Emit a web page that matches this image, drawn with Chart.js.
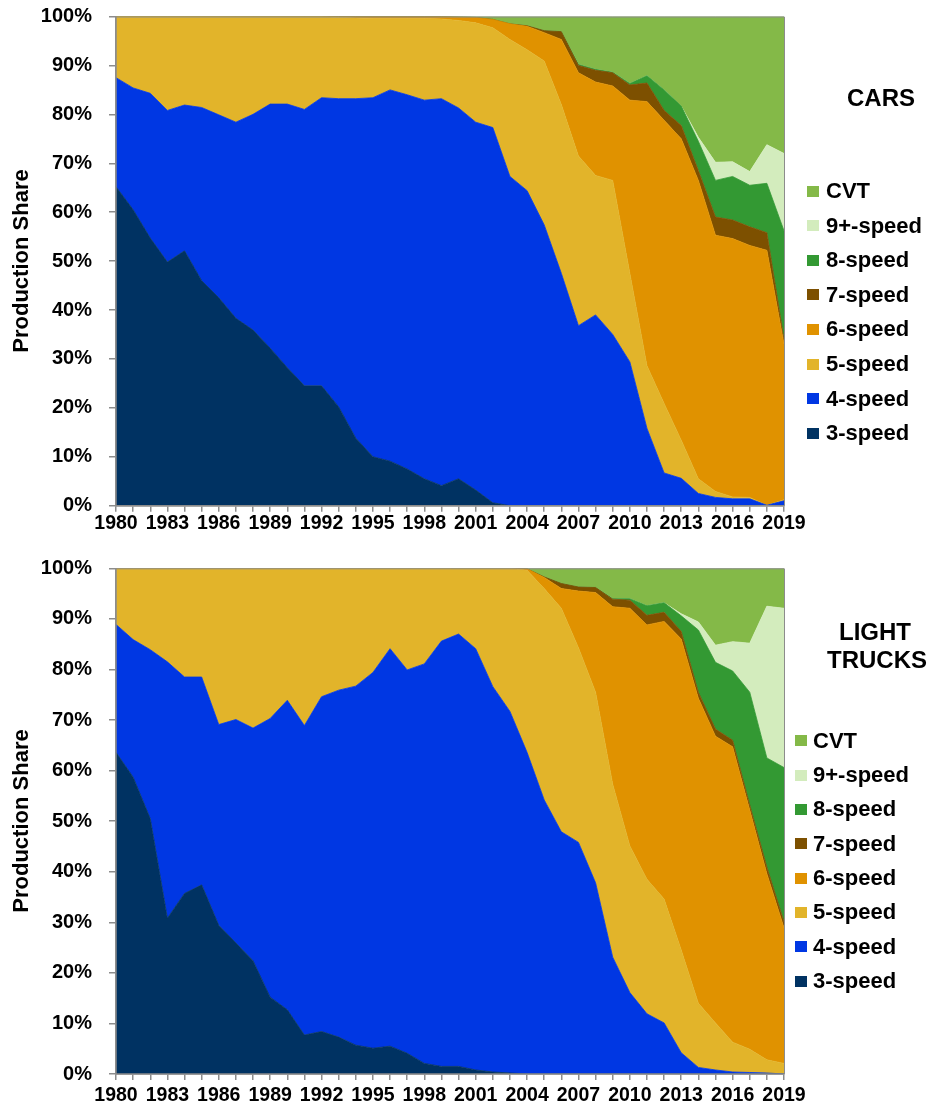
<!DOCTYPE html>
<html><head><meta charset="utf-8">
<script src="https://cdn.jsdelivr.net/npm/chart.js@4.4.1/dist/chart.umd.min.js"></script>
<style>
html,body{margin:0;padding:0;background:#fff;}
body{width:933px;height:1108px;position:relative;overflow:hidden;font-family:"Liberation Sans",Arial,sans-serif;font-weight:bold;color:#000;}
canvas{position:absolute;left:0;}
.t{position:absolute;white-space:nowrap;}
.sq{position:absolute;width:12px;height:11px;}
</style></head><body>
<canvas id="c1" width="933" height="545" style="top:0px"></canvas>
<canvas id="c2" width="933" height="560" style="top:548px"></canvas>
<div id="ov"></div>
<script>
// ---------- DATA ----------
const years = ['1980','1981','1982','1983','1984','1985','1986','1987','1988','1989',
               '1990','1991','1992','1993','1994','1995','1996','1997','1998','1999',
               '2000','2001','2002','2003','2004','2005','2006','2007','2008','2009',
               '2010','2011','2012','2013','2014','2015','2016','2017','2018','2019'];
const yTickLabels = ['0%','10%','20%','30%','40%','50%','60%','70%','80%','90%','100%'];
const seriesNames = ['3-speed','4-speed','5-speed','6-speed','7-speed','8-speed','9+-speed','CVT'];
const seriesColors = ['#003262','#0037E3','#E2B42A','#E09200','#7D5000','#339933','#D3ECBD','#84B948'];

// Cars
const cars3 = [65.2,60.5,54.7,49.8,52.1,46.0,42.5,38.3,35.9,32.2,28.2,24.5,24.5,20.2,13.8,10.0,9.1,7.5,5.5,4.1,5.5,3.2,0.6,0,0,0,0,0,0,0,0,0,0,0,0,0,0,0,0,0];
const cars4 = [22.3,24.9,29.6,31.0,29.8,35.4,37.4,40.1,44.1,49.9,53.9,56.5,58.9,63.0,69.4,73.4,75.9,76.5,77.4,79.1,75.8,75.2,76.7,67.3,64.4,57.4,47.5,36.8,39.0,35.0,29.4,15.8,6.7,5.6,2.5,1.7,1.4,1.4,0.1,1.0];
const cars5 = [12.5,14.6,15.7,19.2,18.1,18.6,20.1,21.6,20.0,17.9,17.9,19.0,16.6,16.6,16.5,16.2,14.6,15.6,16.7,16.3,17.9,20.3,20.4,28.0,28.8,33.5,34.5,34.7,28.5,31.5,18.1,12.8,14.2,7.8,3.0,1.2,0.4,0.3,0,0.2];
const cars6 = [0,0,0,0,0,0,0,0,0,0,0,0,0,0.2,0.3,0.4,0.4,0.4,0.4,0.5,0.7,1.1,1.7,3.2,4.8,5.8,13.3,17.0,19.1,19.3,35.4,54.0,57.9,61.6,61.0,52.4,52.8,51.5,52.1,31.8];
const cars7 = [0,0,0,0,0,0,0,0,0,0,0,0,0,0,0,0,0,0,0,0,0,0,0,0,0.1,0.4,1.6,1.5,2.4,2.7,3.1,3.8,2.0,2.7,2.0,3.7,3.8,3.8,3.6,1.0];
const cars8 = [0,0,0,0,0,0,0,0,0,0,0,0,0,0,0,0,0,0,0,0,0,0,0,0,0,0,0,0.2,0.2,0.1,0.3,1.5,4.2,4.0,6.0,7.5,8.9,8.5,10.1,22.2];
const cars9 = [0,0,0,0,0,0,0,0,0,0,0,0,0,0,0,0,0,0,0,0,0,0,0,0,0,0,0,0,0,0,0,0,0,0,0.8,3.7,3.0,2.8,7.9,15.8];
const carsCVT = [0,0,0,0,0,0,0,0,0,0,0,0,0,0,0,0,0,0,0,0,0.1,0.2,0.6,1.5,1.9,2.9,3.1,9.8,10.8,11.4,13.7,12.1,15.0,18.3,24.7,29.8,29.7,31.7,26.2,28.0];

// Light trucks
const trucks3 = [63.6,58.7,50.5,30.8,35.7,37.4,29.4,25.9,22.4,15.2,12.7,7.7,8.4,7.3,5.7,5.1,5.5,4.1,2.1,1.5,1.5,0.8,0.4,0.2,0,0,0,0,0,0,0,0,0,0,0,0,0,0,0,0];
const trucks4 = [25.3,27.2,33.4,50.7,42.8,41.1,39.7,44.2,46.0,55.1,61.2,61.2,66.2,68.6,71.0,74.3,78.6,75.8,79.0,84.1,85.5,83.3,76.2,71.5,63.6,54.2,47.9,45.8,37.8,23.1,16.1,11.9,10.1,4.2,1.3,0.8,0.4,0.3,0.2,0];
const trucks5 = [11.1,14.1,16.1,18.5,21.5,21.5,30.9,29.9,31.6,29.7,26.1,31.1,25.4,24.1,23.3,20.6,15.9,20.1,18.9,14.4,13.0,15.9,23.4,28.3,36.0,41.8,44.2,38.5,37.7,34.2,29.0,26.6,24.5,20.3,12.7,9.3,5.9,4.6,2.6,2.1];
const trucks6 = [0,0,0,0,0,0,0,0,0,0,0,0,0,0,0,0,0,0,0,0,0,0,0,0,0.3,2.2,3.9,11.2,19.7,35.1,47.0,50.3,54.9,61.5,60.3,56.7,58.4,47.3,36.8,26.8];
const trucks7 = [0,0,0,0,0,0,0,0,0,0,0,0,0,0,0,0,0,0,0,0,0,0,0,0,0,0.1,1.0,0.8,1.0,1.5,1.6,1.9,1.8,1.5,1.2,1.4,1.3,1.0,1.3,1.2];
const trucks8 = [0,0,0,0,0,0,0,0,0,0,0,0,0,0,0,0,0,0,0,0,0,0,0,0,0,0,0,0,0,0.1,0.3,1.9,1.9,3.1,12.3,13.2,13.7,22.3,21.6,30.5];
const trucks9 = [0,0,0,0,0,0,0,0,0,0,0,0,0,0,0,0,0,0,0,0,0,0,0,0,0,0,0,0,0,0,0,0,0,0.4,1.6,3.4,5.8,9.7,30.0,31.5];
const trucksCVT = [0,0,0,0,0,0,0,0,0,0,0,0,0,0,0,0,0,0,0,0,0,0,0,0,0.1,1.7,3.0,3.7,3.8,6.0,6.0,7.4,6.8,9.0,10.6,15.2,14.5,14.8,7.5,7.9];

// ---------- CHARTS ----------
const FONT = '"Liberation Sans", Arial, sans-serif';
const AXIS = '#8c8c8c';

const framePlugin = {
  id: 'frame',
  afterDraw(chart) {
    const {ctx, chartArea: a} = chart;
    ctx.save();
    ctx.strokeStyle = AXIS;
    ctx.lineWidth = 1;
    ctx.beginPath();
    ctx.moveTo(a.left, a.top + 0.5); ctx.lineTo(a.right + 0.5, a.top + 0.5);
    ctx.lineTo(a.right + 0.5, a.bottom);
    ctx.stroke();
    ctx.lineWidth = 1.5;
    ctx.beginPath();
    ctx.moveTo(a.left, a.top); ctx.lineTo(a.left, a.bottom); ctx.lineTo(a.right + 0.5, a.bottom);
    ctx.stroke();
    ctx.restore();
  }
};

function makeChart(id, series, padTop, xAxisH, xLabelPad) {
  const datasets = series.map((d, i) => ({
    label: seriesNames[i],
    data: d,
    backgroundColor: seriesColors[i],
    borderColor: seriesColors[i],
    borderWidth: 0.8,
    fill: i === 0 ? 'origin' : '-1',
    pointRadius: 0,
    tension: 0
  }));
  return new Chart(document.getElementById(id), {
    type: 'line',
    data: { labels: years, datasets },
    plugins: [framePlugin],
    options: {
      responsive: false,
      animation: false,
      events: [],
      layout: { padding: { top: padTop, right: 149, left: 0, bottom: 0 } },
      plugins: { legend: { display: false }, tooltip: { enabled: false } },
      scales: {
        x: {
          type: 'category',
          offset: false,
          ticks: {
            autoSkip: false, maxRotation: 0, minRotation: 0, padding: xLabelPad,
            color: '#000',
            font: { family: FONT, size: 19.5, weight: 'bold' },
            callback: function (val, idx) { return idx % 3 === 0 ? this.getLabelForValue(val) : ''; }
          },
          grid: { drawOnChartArea: false, tickLength: 6, color: AXIS, lineWidth: 1.5, offset: false },
          border: { color: AXIS, width: 1.5 },
          afterFit: s => { s.height = xAxisH; }
        },
        y: {
          stacked: true,
          min: 0, max: 100,
          ticks: {
            stepSize: 10, padding: 17, color: '#000',
            font: { family: FONT, size: 20, weight: 'bold' },
            callback: v => yTickLabels[Math.round(v / 10)]
          },
          grid: { drawOnChartArea: false, tickLength: 7, color: AXIS, lineWidth: 1.5 },
          border: { color: AXIS, width: 1.5 },
          afterFit: s => { s.width = 116; s.paddingTop = 0; s.paddingBottom = 0; }
        }
      }
    }
  });
}

makeChart('c1', [cars3, cars4, cars5, cars6, cars7, cars8, cars9, carsCVT], 16.5, 39.3, 0);
makeChart('c2', [trucks3, trucks4, trucks5, trucks6, trucks7, trucks8, trucks9, trucksCVT], 20.3, 34, 4);

// ---------- TEXT OVERLAY (titles, legends, axis titles) ----------
const ov = document.getElementById('ov');
function addText(txt, left, top, size, extra) {
  const d = document.createElement('div');
  d.className = 't';
  d.textContent = txt;
  d.style.left = left + 'px';
  d.style.top = top + 'px';
  d.style.fontSize = size + 'px';
  if (extra) Object.assign(d.style, extra);
  ov.appendChild(d);
  return d;
}
function addLegend(sqLeft, txtLeft, firstCenter, step) {
  for (let r = 0; r < seriesNames.length; r++) {
    const i = seriesNames.length - 1 - r;
    const cy = firstCenter + r * step;
    const sq = document.createElement('div');
    sq.className = 'sq';
    sq.style.left = sqLeft + 'px';
    sq.style.top = (cy - 5.5) + 'px';
    sq.style.background = seriesColors[i];
    ov.appendChild(sq);
    addText(seriesNames[i], txtLeft, cy - 12, 22, { lineHeight: '24px' });
  }
}
// Titles
addText('CARS', 821, 85.3, 24, { lineHeight: '26px', width: '120px', textAlign: 'center' });
addText('LIGHT', 815, 619, 24, { lineHeight: '26px', width: '120px', textAlign: 'center' });
addText('TRUCKS', 817, 647, 24, { lineHeight: '26px', width: '120px', textAlign: 'center' });
// Legends
addLegend(807, 826, 191, 34.6);
addLegend(795, 813, 740.7, 34.33);
// Y axis titles
addText('Production Share', 20.5, 260.5, 22, { transform: 'translate(-50%,-50%) rotate(-90deg)', lineHeight: '24px' });
addText('Production Share', 20.5, 821, 22, { transform: 'translate(-50%,-50%) rotate(-90deg)', lineHeight: '24px' });
</script>
</body></html>
